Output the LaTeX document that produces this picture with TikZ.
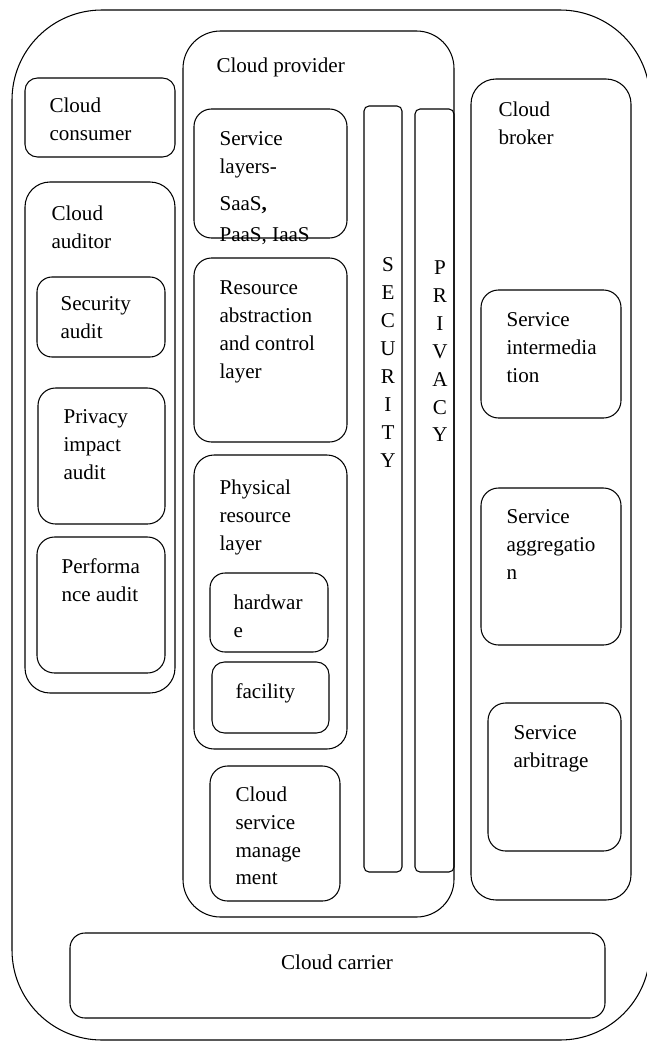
\documentclass[tikz,border=0pt]{standalone}
\usepackage{fontspec}
\setmainfont{Liberation Serif}

\begin{document}
\begin{tikzpicture}[x=0.02cm, y=-0.02cm, line width=0.6pt,
	box/.style={draw, rounded corners=#1},
	box/.default=0.35cm,
	txt/.style={anchor=north west, align=left, inner sep=0pt, font=\fontsize{12}{15.9}\selectfont},
	letters/.style={anchor=north, align=center, inner sep=0pt, font=\fontsize{12}{15.9}\selectfont}]
	\useasboundingbox (0,0) rectangle (646,1041);
	\draw [box=1.8cm] (12,10) rectangle (650,1040);
	\draw [box=0.75cm] (183,31) rectangle (454,917);
	\draw [box=0.5cm] (471,79) rectangle (631,900);
	\draw [box=0.5cm] (25,182) rectangle (175,693);
	\draw [box=0.25cm] (25,78) rectangle (175,157);
	\draw [box=0.3cm] (37,277) rectangle (165,357);
	\draw [box] (38,388) rectangle (165,524);
	\draw [box] (37,537) rectangle (165,673);
	\draw [box] (194,109) rectangle (347,238);
	\draw [box] (194,258) rectangle (347,442);
	\draw [box=0.4cm] (194,455) rectangle (347,749);
	\draw [box=0.3cm] (210,573) rectangle (328,652);
	\draw [box=0.25cm] (212,662) rectangle (329,733);
	\draw [box] (210,766) rectangle (340,901);
	\draw [box=0.1cm] (364,106) rectangle (402,872);
	\draw [box=0.1cm] (415,109) rectangle (454,872);
	\draw [box] (481,290) rectangle (621,418);
	\draw [box] (481,488) rectangle (621,645);
	\draw [box] (488,703) rectangle (621,851);
	\draw [box=0.3cm] (70,933) rectangle (605,1018);

	\node [txt] (provider) at (216,57) {Cloud provider};
	\node [txt] (consumer) at (49,97) {Cloud\\consumer};
	\node [txt] (auditor) at (51,205) {Cloud\\auditor};
	\node [txt] (secaudit) at (60,296) {Security\\audit};
	\node [txt] (privaudit) at (63,409) {Privacy\\impact\\audit};
	\node [txt] (perfaudit) at (61,558) {Performa\\nce audit};
	\node [txt] (layers) at (219,131) {Service\\layers-\\[5pt]SaaS\textbf{,}\\[2pt]PaaS, IaaS};
	\node [txt] (abstraction) at (219,280) {Resource\\abstraction\\and control\\layer};
	\node [txt] (physical) at (219,479) {Physical\\resource\\layer};
	\node [txt] (hardware) at (233,594) {hardwar\\e};
	\node [txt] (facility) at (235,683) {facility};
	\node [txt] (management) at (235,786) {Cloud\\service\\manage\\ment};
	\node [letters] (security) at (388,257) {S\\E\\C\\U\\R\\I\\T\\Y};
	\node [letters] (privacy) at (440,260) {P\\R\\I\\V\\A\\C\\Y};
	\node [txt] (broker) at (498,101) {Cloud\\broker};
	\node [txt] (intermediation) at (506,312) {Service\\intermedia\\tion};
	\node [txt] (aggregation) at (506,509) {Service\\aggregatio\\n};
	\node [txt] (arbitrage) at (513,725) {Service\\arbitrage};
	\node [font=\fontsize{12}{15.9}\selectfont, inner sep=0pt] (carrier) at (337,962) {Cloud carrier};
\end{tikzpicture}
\end{document}
